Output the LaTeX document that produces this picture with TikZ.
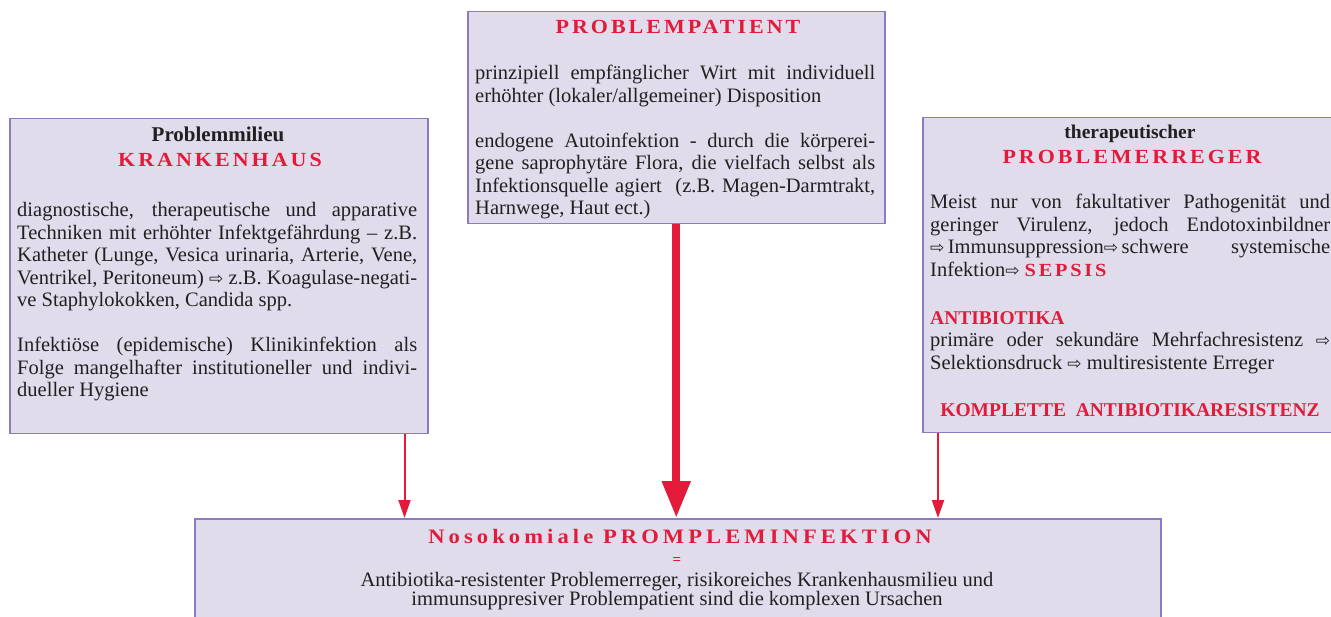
\documentclass[tikz,border=0pt]{standalone}
\usepackage{fontspec}
\setmainfont{Liberation Serif}
\newfontfamily\spacedfont[LetterSpace=15,FakeStretch=1.1]{Liberation Serif}
\newfontfamily\titlefont[LetterSpace=20,FakeStretch=1.1]{Liberation Serif}
\newfontfamily\arrowfont{DejaVu Sans}
\usetikzlibrary{arrows.meta}

\definecolor{boxfill}{HTML}{E0DCEC}
\definecolor{boxline}{HTML}{8C7BBF}
\definecolor{probred}{HTML}{E31B3A}
\definecolor{ink}{HTML}{231F20}

\newcommand\ra{{\arrowfont\fontsize{17}{17}\selectfont ⇨}}
\newcommand\bodysize{\fontsize{20.5}{22.5}\selectfont\tolerance=10000\hyphenpenalty=10000\hfuzz=20pt}

\begin{document}
\begin{tikzpicture}[x=1pt,y=-1pt,
    box/.style={draw=boxline,fill=boxfill,line width=1.5pt,anchor=north west,inner sep=0pt},
    body/.style={anchor=base west,inner sep=0pt,text width=400pt,align=justify,text=ink,font=\bodysize},
    kicker/.style={anchor=base,inner sep=0pt,text=ink,font=\bfseries\fontsize{21}{21}\selectfont},
    spaced/.style={anchor=base,inner sep=0pt,text=probred,font=\spacedfont\bfseries\fontsize{20}{20}\selectfont},
    redhead/.style={inner sep=0pt,text=probred,font=\bfseries\fontsize{19.5}{19.5}\selectfont},
    feedarrow/.style={draw=probred,line width=2pt,-{Triangle[length=18pt,width=12pt]}},
    mainarrow/.style={draw=probred,line width=8pt,-{Triangle[length=37pt,width=27pt]}}]
  \useasboundingbox (0,0) rectangle (1331,617);

  \node[box,minimum width=418pt,minimum height=315pt] (milieu) at (9,118) {};
  \node[box,minimum width=417pt,minimum height=212pt] (patient) at (467,11) {};
  \node[box,minimum width=418pt,minimum height=315pt] (erreger) at (922,117) {};
  \node[box,minimum width=966pt,minimum height=130pt] (infektion) at (194,518) {};

  \node[kicker] (milieutitle) at (218,142) {Problemmilieu};
  \node[spaced] (milieuhead) at (220,167) {KRANKENHAUS};
  \node[body] (milieutext) at (17,217) {diagnostische, therapeutische und apparative\linebreak
    Techniken mit erhöhter Infektgefährdung -- z.B.\linebreak
    Katheter (Lunge, Vesica urinaria, Arterie, Vene,\linebreak
    Ventrikel, Peritoneum) \ra\ z.B. Koagulase-negati-\linebreak
    ve Staphylokokken, Candida spp.\\[22.5pt]
    Infektiöse (epidemische) Klinikinfektion als\linebreak
    Folge mangelhafter institutioneller und indivi-\linebreak
    dueller Hygiene};

  \node[spaced] (patienthead) at (678,34) {PROBLEMPATIENT};
  \node[body] (patienttext) at (475,80) {prinzipiell empfänglicher Wirt mit individuell\linebreak
    erhöhter (lokaler/allgemeiner) Disposition\\[22.5pt]
    endogene Autoinfektion - durch die körperei-\linebreak
    gene saprophytäre Flora, die vielfach selbst als\linebreak
    Infektionsquelle agiert~ (z.B. Magen-Darmtrakt,\linebreak
    Harnwege, Haut ect.)};

  \node[kicker,font=\bfseries\fontsize{19.5}{19.5}\selectfont] (erregertitle) at (1130,139) {therapeutischer};
  \node[spaced] (erregerhead) at (1132,164) {PROBLEMERREGER};
  \node[body] (erregertext) at (930,209) {Meist nur von fakultativer Pathogenität und\linebreak
    geringer Virulenz, jedoch Endotoxinbildner\linebreak
    \ra\,Immunsuppression\ra\,schwere systemische\linebreak
    Infektion\ra\ {\spacedfont\bfseries\fontsize{18.5}{18.5}\selectfont\color{probred}SEPSIS}};
  \node[redhead,anchor=base west] (antibiohead) at (930,325) {ANTIBIOTIKA};
  \node[body] (antibiotext) at (930,347) {primäre oder sekundäre Mehrfachresistenz \ra\linebreak
    Selektionsdruck \ra\ multiresistente Erreger};
  \node[redhead,anchor=base] (komplett) at (1130,417) {KOMPLETTE\ \ ANTIBIOTIKARESISTENZ};

  \node[anchor=base,inner sep=0pt,text=probred,font=\titlefont\bfseries\fontsize{20.5}{20.5}\selectfont] (infekthead) at (680,543) {Nosokomiale PROMPLEMINFEKTION};
  \node[anchor=base,inner sep=0pt,text=probred,font=\bfseries\fontsize{15}{15}\selectfont] (equals) at (677,564) {=};
  \node[anchor=base,inner sep=0pt,align=center,text=ink,font=\fontsize{20.5}{19}\selectfont] (infekttext) at (677,605) {Antibiotika-resistenter Problemerreger, risikoreiches Krankenhausmilieu und\\
    immunsuppresiver Problempatient sind die komplexen Ursachen};

  \path (milieu.south east) ++(-24,0) coordinate (milieuout);
  \path (erreger.south west) ++(16,0) coordinate (erregerout);
  \draw[feedarrow] (milieuout) -- (milieuout |- infektion.north);
  \draw[mainarrow] (patient.south) -- (patient.south |- infektion.north);
  \draw[feedarrow] (erregerout) -- (erregerout |- infektion.north);
\end{tikzpicture}
\end{document}
